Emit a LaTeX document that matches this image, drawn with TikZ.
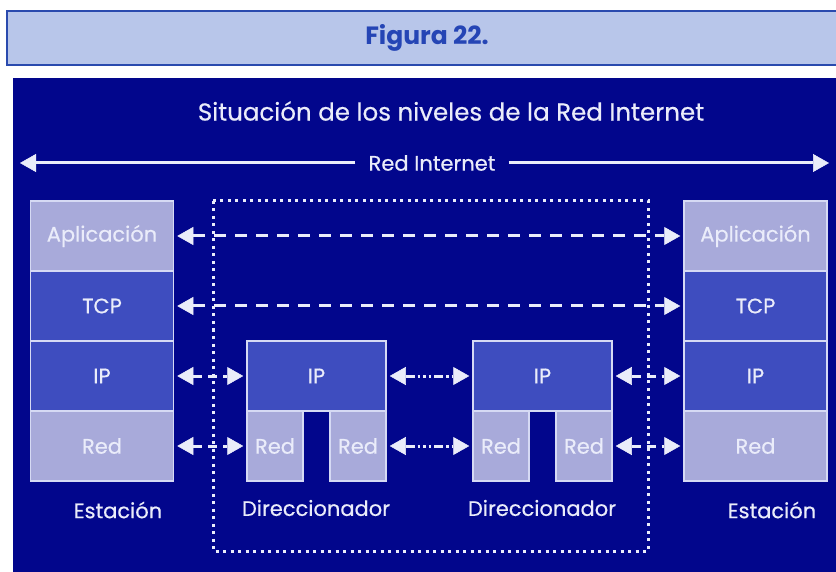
\documentclass[tikz,border=0pt]{standalone}
\usepackage{fontspec}
\setmainfont{Poppins}
\newfontfamily\medfont{Poppins}[FakeBold=0.5]
\usetikzlibrary{arrows.meta}
\definecolor{fondo}{RGB}{2,6,140}
\definecolor{claro}{RGB}{168,170,218}
\definecolor{medio}{RGB}{62,77,191}
\definecolor{borde}{RGB}{214,218,244}
\definecolor{texto}{RGB}{234,236,250}
\definecolor{cabfondo}{RGB}{184,198,234}
\definecolor{cabborde}{RGB}{42,74,174}
\definecolor{cabtexto}{RGB}{37,69,181}
\tikzset{
% Two layer styles for the protocol stacks: light and dark
light layer/.style={rectangle,draw=borde,line width=1.5pt,fill=claro,text=texto,inner sep=0pt,minimum width=143pt,minimum height=70pt},
dark layer/.style={light layer,fill=medio},
% Links between peer layers
big tip/.style={>={Triangle[length=16pt,width=18pt,fill=texto,line width=0.5pt]}},
peer link/.style={big tip,<->,draw=texto,line width=3pt,shorten <=3pt,shorten >=3pt},
long dash/.style={dash pattern=on 12pt off 9pt},
short dash/.style={dash pattern=on 9pt off 6pt},
dot dash/.style={dash pattern=on 9pt off 3pt on 2.5pt off 3pt on 2.5pt off 3pt on 2.5pt off 3pt}
}
\begin{document}
\begin{tikzpicture}[x=1pt,y=-1pt,font=\medfont\fontsize{21}{24}\selectfont]
\useasboundingbox (0,0) rectangle (836,572);
\fill[white] (0,0) rectangle (836,572);
% header
\fill[cabfondo] (7,11) rectangle (836,65);
\draw[cabborde,line width=1.2pt] (836,11) -- (7,11) -- (7,65) -- (836,65);
\node[text=cabtexto,font=\fontsize{25}{28}\selectfont\bfseries] (cab) at (427,38) {Figura 22.};
\fill[fondo] (13,78) rectangle (836,572);
\node[text=texto,font=\medfont\fontsize{24.5}{28}\selectfont] (tit) at (451,111) {Situación de los niveles de la Red Internet};

% Red Internet
\coordinate (izq) at (20,163);
\coordinate (der) at (829,163);
\node[text=texto,inner xsep=13pt] (redint) at (432,163) {Red Internet};
\draw[big tip,->,draw=texto,line width=3pt] (redint) -- (izq);
\draw[big tip,->,draw=texto,line width=3pt] (redint) -- (der);

% routers zone
\draw[texto,line width=3pt,dash pattern=on 3pt off 4.5pt] (213,201) rectangle (648,551);

% left station
\node[light layer] (appL) at (102,236) {Aplicación};
\node[dark layer] (tcpL) at (102,306) {TCP};
\node[dark layer] (ipL) at (102,376) {IP};
\node[light layer] (redL) at (102,446) {Red};
\node[text=texto] (estL) at (118,510) {Estación};

% right station
\node[light layer] (appR) at (755.5,236) {Aplicación};
\node[dark layer] (tcpR) at (755.5,306) {TCP};
\node[dark layer] (ipR) at (755.5,376) {IP};
\node[light layer] (redR) at (755.5,446) {Red};
\node[text=texto] (estR) at (772,510) {Estación};

% first router
\node[dark layer,minimum width=139pt] (ipA) at (316.5,376) {IP};
\node[light layer,minimum width=56pt] (redA1) at (275,446) {Red};
\node[light layer,minimum width=56pt] (redA2) at (358,446) {Red};
\node[text=texto] (dirA) at (316,508) {Direccionador};

% second router
\node[dark layer,minimum width=139pt] (ipB) at (542.5,376) {IP};
\node[light layer,minimum width=56pt] (redB1) at (501,446) {Red};
\node[light layer,minimum width=56pt] (redB2) at (584,446) {Red};
\node[text=texto] (dirB) at (542,508) {Direccionador};

\draw[peer link,long dash] (appL) -- (appR);
\draw[peer link,long dash] (tcpL) -- (tcpR);
\draw[peer link,short dash] (ipL) -- (ipA);
\draw[peer link,dot dash] (ipA) -- (ipB);
\draw[peer link,short dash] (ipB) -- (ipR);
\draw[peer link,short dash] (redL) -- (redA1);
\draw[peer link,dot dash] (redA2) -- (redB1);
\draw[peer link,short dash] (redB2) -- (redR);
\end{tikzpicture}
\end{document}
